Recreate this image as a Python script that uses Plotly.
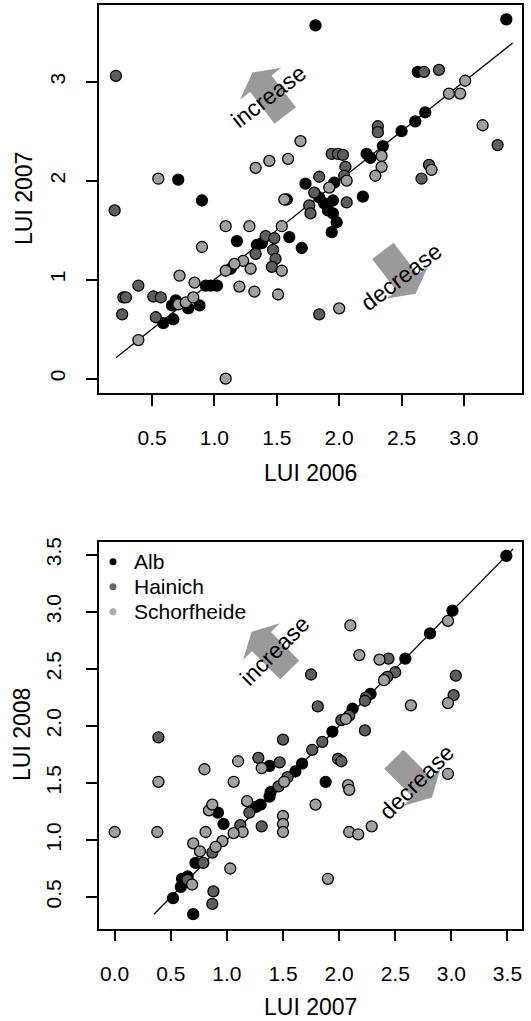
import math
import plotly.graph_objects as go

# ---------------- data ----------------
regions = ["Alb", "Hainich", "Schorfheide"]

# Panel 1: LUI 2006 (x) vs LUI 2007 (y)
alb_06 = [1.81, 3.34, 2.63, 2.69, 2.61, 2.50, 2.35, 2.22, 2.25, 1.73, 1.96, 2.19, 0.71, 0.90, 1.58, 1.18, 1.70, 1.34, 1.38, 1.60,
          1.13, 1.02, 0.97, 0.93, 0.69, 0.66, 0.79, 0.88, 0.59, 0.67, 1.84, 1.88, 1.95, 1.91, 1.95, 1.98, 1.94]
alb_07 = [3.57, 3.63, 3.10, 2.69, 2.60, 2.50, 2.35, 2.27, 2.23, 1.97, 1.98, 1.84, 2.01, 1.80, 1.81, 1.39, 1.32, 1.35, 1.37, 1.43,
          1.11, 0.94, 0.94, 0.94, 0.79, 0.74, 0.71, 0.74, 0.56, 0.60, 1.83, 1.77, 1.80, 1.70, 1.67, 1.58, 1.48]
hai_06 = [0.21, 2.68, 2.80, 3.27, 2.31, 2.31, 2.72, 2.66, 1.94, 1.99, 2.03, 2.05, 2.04, 1.84, 1.80, 2.06, 1.76, 1.77, 0.20, 1.41,
          1.48, 1.33, 1.47, 1.49, 1.46, 0.39, 0.27, 0.29, 0.51, 0.57, 0.26, 0.53, 1.84]
hai_07 = [3.06, 3.10, 3.12, 2.36, 2.55, 2.49, 2.16, 2.02, 2.27, 2.27, 2.26, 2.14, 2.05, 2.04, 1.88, 1.78, 1.75, 1.67, 1.70, 1.44,
          1.42, 1.26, 1.30, 1.21, 1.13, 0.94, 0.82, 0.82, 0.83, 0.82, 0.65, 0.62, 0.65]
sch_06 = [3.01, 2.88, 2.97, 3.15, 2.34, 2.34, 2.29, 2.74, 2.06, 1.92, 0.55, 1.33, 1.44, 1.59, 1.69, 1.56, 1.09, 1.28, 1.54, 0.90,
          1.54, 1.29, 1.23, 1.16, 1.09, 0.84, 0.72, 1.20, 1.32, 1.51, 0.71, 0.77, 0.83, 0.39, 1.09, 2.00]
sch_07 = [3.01, 2.88, 2.88, 2.56, 2.25, 2.14, 2.05, 2.11, 2.00, 1.93, 2.02, 2.13, 2.20, 2.22, 2.40, 1.81, 1.54, 1.54, 1.54, 1.33,
          1.09, 1.11, 1.19, 1.16, 1.09, 0.97, 1.04, 0.93, 0.88, 0.85, 0.75, 0.77, 0.82, 0.39, 0.00, 0.71]

# Panel 2: LUI 2007 (x) vs LUI 2008 (y)
alb_07b = [3.49, 3.01, 2.81, 2.59, 2.28, 2.12, 1.94, 1.67, 1.61, 1.39, 1.38, 1.30, 1.26, 1.38, 0.92, 0.97, 1.88, 0.72, 0.65, 0.60,
           0.59, 0.52, 0.70]
alb_08 = [3.49, 3.01, 2.81, 2.59, 2.28, 2.15, 1.95, 1.67, 1.60, 1.42, 1.38, 1.31, 1.29, 1.65, 1.24, 1.14, 1.51, 0.80, 0.68, 0.66,
          0.59, 0.49, 0.35]
hai_07b = [2.44, 2.50, 2.41, 2.43, 1.75, 3.04, 3.02, 1.81, 2.24, 2.23, 2.09, 2.02, 2.23, 1.76, 1.85, 0.39, 1.50, 1.28, 1.47, 1.99,
           2.02, 1.54, 1.46, 1.20, 1.31, 1.12, 0.87, 0.79, 0.65, 0.88, 0.87]
hai_08 = [2.59, 2.47, 2.41, 2.43, 2.45, 2.44, 2.27, 2.17, 2.25, 2.22, 2.09, 2.05, 1.96, 1.79, 1.86, 1.90, 1.88, 1.72, 1.68, 1.71,
          1.69, 1.55, 1.47, 1.24, 1.12, 1.13, 0.89, 0.80, 0.65, 0.55, 0.44]
sch_07b = [2.97, 2.10, 2.18, 2.36, 2.40, 2.97, 2.64, 2.06, 0.39, 0.00, 0.38, 0.80, 1.06, 1.10, 1.31, 1.51, 1.18, 1.50, 1.50, 1.50,
           0.84, 0.87, 0.81, 1.14, 1.06, 0.96, 0.90, 0.70, 0.76, 1.03, 0.69, 2.08, 2.09, 1.79, 2.29, 2.09, 2.17, 1.90, 2.97]
sch_08 = [2.92, 2.88, 2.62, 2.58, 2.40, 2.20, 2.18, 2.06, 1.51, 1.07, 1.07, 1.62, 1.51, 1.69, 1.63, 1.51, 1.34, 1.21, 1.14, 1.07,
          1.26, 1.31, 1.07, 1.07, 1.06, 0.99, 0.94, 0.97, 0.90, 0.75, 0.61, 1.48, 1.44, 1.31, 1.12, 1.07, 1.05, 0.66, 1.58]

# 1:1 reference segments
line_p1 = [0.21, 3.39]
line_p2 = [0.35, 3.55]

# ticks
p1_xticks = [0.5, 1.0, 1.5, 2.0, 2.5, 3.0]
p1_xlabels = ["0.5", "1.0", "1.5", "2.0", "2.5", "3.0"]
p1_yticks = [0, 1, 2, 3]
p1_ylabels = ["0", "1", "2", "3"]
p2_xticks = [0.0, 0.5, 1.0, 1.5, 2.0, 2.5, 3.0, 3.5]
p2_xlabels = ["0.0", "0.5", "1.0", "1.5", "2.0", "2.5", "3.0", "3.5"]
p2_yticks = [0.5, 1.0, 1.5, 2.0, 2.5, 3.0, 3.5]
p2_ylabels = ["0.5", "1.0", "1.5", "2.0", "2.5", "3.0", "3.5"]

# ---------------- style ----------------
W, H = 531, 1021
FONT = "Liberation Sans, Arial, sans-serif"
fills = ["#000000", "#5e5e5e", "#a0a0a0"]
legend_fills = ["#000000", "#666666", "#aaaaaa"]
ARROW_GRAY = "#9a9a9a"


def px_x(p):
    return p / W


def px_y(p):
    return 1 - p / H


def rlim(vals):
    lo, hi = min(vals), max(vals)
    pad = 0.04 * (hi - lo)
    return [lo - pad, hi + pad]


fig = go.Figure()

panels = [
    dict(xa="x", ya="y", data=[(alb_06, alb_07), (hai_06, hai_07), (sch_06, sch_07)], line=line_p1),
    dict(xa="x2", ya="y2", data=[(alb_07b, alb_08), (hai_07b, hai_08), (sch_07b, sch_08)], line=line_p2),
]

for pi, pnl in enumerate(panels):
    fig.add_trace(go.Scatter(x=pnl["line"], y=pnl["line"], mode="lines", xaxis=pnl["xa"], yaxis=pnl["ya"],
                             line=dict(color="black", width=1.3), showlegend=False, hoverinfo="skip"))
    for ri, (xs, ys) in enumerate(pnl["data"]):
        fig.add_trace(go.Scatter(x=xs, y=ys, mode="markers", name=regions[ri], xaxis=pnl["xa"], yaxis=pnl["ya"],
                                 marker=dict(size=11, color=fills[ri], line=dict(color="black", width=1.3)),
                                 showlegend=False))

x1r = rlim(alb_06 + hai_06 + sch_06)
y1r = rlim(alb_07 + hai_07 + sch_07)
x2r = rlim(alb_07b + hai_07b + sch_07b)
y2r = rlim(alb_08 + hai_08 + sch_08)

common = dict(showgrid=False, zeroline=False, showline=True, linecolor="black", linewidth=1.8, mirror=True,
              ticks="outside", ticklen=11, tickwidth=1.5, tickcolor="black",
              tickfont=dict(family=FONT, size=21, color="black"), automargin=False)

LEFT, RIGHT = 99, 522
fig.update_layout(
    width=W, height=H, margin=dict(l=0, r=0, t=0, b=0),
    paper_bgcolor="white", plot_bgcolor="white", showlegend=False,
    xaxis=dict(domain=[px_x(LEFT), px_x(RIGHT)], range=x1r, anchor="y", tickvals=p1_xticks, ticktext=p1_xlabels,
               ticklabelstandoff=14, **common),
    yaxis=dict(domain=[px_y(393), px_y(5)], range=y1r, anchor="x", tickvals=p1_yticks, ticktext=p1_ylabels,
               tickangle=-90, ticklabelstandoff=13, **common),
    xaxis2=dict(domain=[px_x(LEFT), px_x(RIGHT)], range=x2r, anchor="y2", tickvals=p2_xticks, ticktext=p2_xlabels,
                ticklabelstandoff=14, **common),
    yaxis2=dict(domain=[px_y(928.5), px_y(541.5)], range=y2r, anchor="x2", tickvals=p2_yticks, ticktext=p2_ylabels,
                tickangle=-90, ticklabelstandoff=17, **common),
)

annotations = []
# axis titles
for txt, x, y, ang in [("LUI 2006", (LEFT + RIGHT) / 2, 472.7, 0), ("LUI 2007", 24, 199, -90),
                       ("LUI 2007", (LEFT + RIGHT) / 2, 1006.7, 0), ("LUI 2008", 22, 735, -90)]:
    annotations.append(dict(text=txt, x=px_x(x), y=px_y(y), xref="paper", yref="paper", showarrow=False,
                            textangle=ang, xanchor="center", yanchor="middle",
                            font=dict(family=FONT, size=23, color="black")))

# increase / decrease labels and arrows
labels = [
    ("increase", "x", "y", 1.437, 2.855, -37.5),
    ("decrease", "x", "y", 2.496, 1.026, -37.5),
    ("increase", "x2", "y2", 1.42, 2.66, -45),
    ("decrease", "x2", "y2", 2.688, 1.510, -45),
]
for txt, xr, yr, x, y, ang in labels:
    annotations.append(dict(text=txt, x=x, y=y, xref=xr, yref=yr, showarrow=False, textangle=ang,
                            xanchor="center", yanchor="middle", font=dict(family=FONT, size=23, color="black")))

# arrows: anchored at head base midpoint, direction angle (deg, y up)
arrows = [
    ("x", "y", 1.372, 2.98, 127.5),
    ("x", "y", 2.545, 0.970, -52.5),
    ("x2", "y2", 1.308, 2.738, 135),
    ("x2", "y2", 2.739, 1.460, -45),
]
HEAD_LEN, HEAD_HALF, SHAFT_HALF, SHAFT_LEN = 14, 26, 13.5, 40
shapes = []
for xr, yr, ax, ay, deg in arrows:
    dx, dy = math.cos(math.radians(deg)), math.sin(math.radians(deg))
    px_, py_ = -dy, dx
    pts = [
        (HEAD_LEN * dx, HEAD_LEN * dy),
        (HEAD_HALF * px_, HEAD_HALF * py_),
        (SHAFT_HALF * px_, SHAFT_HALF * py_),
        (SHAFT_HALF * px_ - SHAFT_LEN * dx, SHAFT_HALF * py_ - SHAFT_LEN * dy),
        (-SHAFT_HALF * px_ - SHAFT_LEN * dx, -SHAFT_HALF * py_ - SHAFT_LEN * dy),
        (-SHAFT_HALF * px_, -SHAFT_HALF * py_),
        (-HEAD_HALF * px_, -HEAD_HALF * py_),
    ]
    path = "M " + " L ".join(f"{a:.2f},{b:.2f}" for a, b in pts) + " Z"
    shapes.append(dict(type="path", xref=xr, yref=yr, xsizemode="pixel", ysizemode="pixel",
                       xanchor=ax, yanchor=ay, path=path, fillcolor=ARROW_GRAY, line=dict(width=0), layer="above"))

# legend (bottom panel, top-left)
for i, name in enumerate(regions):
    yy = 561.7 + 25 * i
    shapes.append(dict(type="circle", xref="paper", yref="paper", xsizemode="pixel", ysizemode="pixel",
                       xanchor=px_x(113), yanchor=px_y(yy), x0=-3.5, x1=3.5, y0=-3.5, y1=3.5,
                       fillcolor=legend_fills[i], line=dict(width=0)))
    annotations.append(dict(text=name, x=px_x(132), y=px_y(yy), xref="paper", yref="paper", showarrow=False,
                            xanchor="left", yanchor="middle", font=dict(family=FONT, size=21, color="black")))

fig.update_layout(annotations=annotations, shapes=shapes)
fig.write_html("out.html", config={"displayModeBar": False},
               post_script="document.body.style.margin='0';document.body.style.overflow='hidden';")
